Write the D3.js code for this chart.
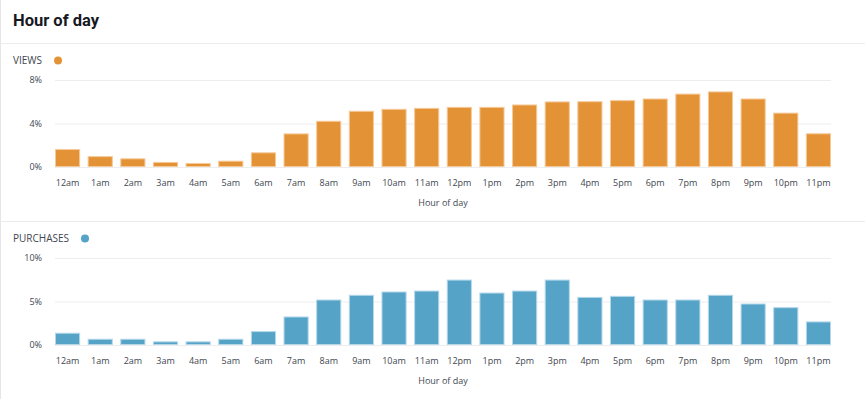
<!DOCTYPE html>
<html>
<head>
<meta charset="utf-8">
<script src="https://cdn.jsdelivr.net/npm/d3@7"></script>
<style>
  html, body { margin: 0; padding: 0; background: #fff; }
  svg { display: block; font-family: "Open Sans", "Noto Sans", sans-serif; }
</style>
</head>
<body>
<div id="chart"></div>
<script>
// data
const hours = ["12am", "1am", "2am", "3am", "4am", "5am", "6am", "7am", "8am", "9am", "10am", "11am",
  "12pm", "1pm", "2pm", "3pm", "4pm", "5pm", "6pm", "7pm", "8pm", "9pm", "10pm", "11pm"];
const views = [1.65, 1.0, 0.8, 0.47, 0.37, 0.58, 1.35, 3.09, 4.25, 5.17, 5.35, 5.44,
  5.53, 5.53, 5.75, 6.03, 6.05, 6.15, 6.3, 6.75, 6.95, 6.3, 5.0, 3.1];
const purchases = [1.41, 0.72, 0.72, 0.42, 0.42, 0.72, 1.6, 3.28, 5.23, 5.77, 6.15, 6.26,
  7.52, 6.03, 6.26, 7.52, 5.53, 5.65, 5.23, 5.23, 5.77, 4.77, 4.35, 2.71];
const viewsTicks = [0, 4, 8];
const purchaseTicks = [0, 5, 10];

const W = 865, H = 399;
const svg = d3.select("#chart").append("svg")
  .attr("width", W)
  .attr("height", H);

// card frame
svg.append("line").attr("x1", 0.5).attr("x2", 0.5).attr("y1", 0).attr("y2", H)
  .attr("stroke", "#e6e6e6");
svg.append("text")
  .attr("x", 13).attr("y", 26)
  .attr("font-size", 16.5).attr("font-weight", 700)
  .attr("font-family", "Roboto, sans-serif")
  .attr("fill", "#16191f")
  .text("Hour of day");
[43.5, 221.5].forEach(y => {
  svg.append("line").attr("x1", 0).attr("x2", W).attr("y1", y).attr("y2", y)
    .attr("stroke", "#eaeded");
});

const x = d3.scaleBand()
  .domain(hours)
  .range([55, 831])
  .paddingInner(0.23)
  .paddingOuter(0.0);

function panel(opts) {
  const g = svg.append("g");
  const y = d3.scaleLinear()
    .domain([0, opts.max])
    .range([opts.base, opts.top]);

  const lbl = g.append("text")
    .attr("x", 13).attr("y", opts.labelY)
    .attr("font-size", 10).attr("fill", "#414750")
    .text(opts.label);
  const lw = lbl.node().getComputedTextLength();
  g.append("circle")
    .attr("cx", 13 + lw + 16).attr("cy", opts.labelY - 3.5).attr("r", 4)
    .attr("fill", opts.color);

  // gridlines
  g.selectAll(".grid").data(opts.ticks).enter().append("line")
    .attr("x1", 55).attr("x2", 831)
    .attr("y1", d => y(d) + 0.5).attr("y2", d => y(d) + 0.5)
    .attr("stroke", "#ededed");

  // y axis
  const yAxis = g.append("g")
    .attr("transform", "translate(45,0)")
    .call(d3.axisLeft(y).tickValues(opts.ticks).tickFormat(d => d + "%").tickSize(0).tickPadding(3));
  yAxis.select(".domain").remove();
  yAxis.selectAll("text").attr("font-size", 9).attr("fill", "#414750")
    .attr("font-family", "\"Open Sans\", sans-serif");

  g.selectAll(".bar").data(opts.values).enter().append("rect")
    .attr("x", (d, i) => x(hours[i]) + 0.5)
    .attr("width", x.bandwidth() - 1)
    .attr("y", d => y(d) + 0.5)
    .attr("height", d => y(0) - y(d) - 1)
    .attr("fill", opts.color)
    .attr("stroke", opts.stroke)
    .attr("stroke-width", 1);

  // x axis
  const xAxis = g.append("g")
    .attr("transform", `translate(0,${opts.base})`)
    .call(d3.axisBottom(x).tickSize(0).tickPadding(13));
  xAxis.select(".domain").remove();
  xAxis.selectAll("text").attr("font-size", 9).attr("fill", "#414750")
    .attr("font-family", "\"Open Sans\", sans-serif");

  g.append("text")
    .attr("x", 443).attr("y", opts.base + 39)
    .attr("text-anchor", "middle")
    .attr("font-size", 9).attr("fill", "#414750")
    .text("Hour of day");
}

panel({ label: "VIEWS", labelY: 64, values: views, ticks: viewsTicks, max: 8,
  base: 167, top: 80, color: "#e39336", stroke: "#f6c999" });
panel({ label: "PURCHASES", labelY: 242, values: purchases, ticks: purchaseTicks, max: 10,
  base: 345, top: 258, color: "#55a3c7", stroke: "#b4d8ea" });
</script>
</body>
</html>
